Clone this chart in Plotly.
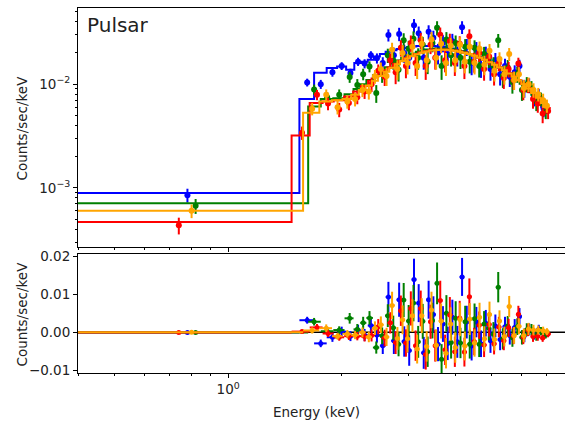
import plotly.graph_objects as go

# ---------------- data ----------------
# each dataset: first point is the wide low-energy bin
blue_E = [0.78, 1.62, 1.76, 1.89, 2.00, 2.11, 2.21, 2.30, 2.39, 2.48, 2.57, 2.66, 2.75, 2.84, 2.93,
          3.02, 3.11, 3.20, 3.30, 3.40, 3.50, 3.60, 3.71, 3.82, 3.93, 4.05, 4.17, 4.29, 4.42, 4.55,
          4.68, 4.82, 4.96, 5.11, 5.26, 5.42, 5.58, 5.75, 5.92, 6.10, 6.28, 6.47, 6.66, 6.86]
blue_F = [8.5e-4, 0.0104, 0.0100, 0.0130, 0.0150, 0.0128, 0.0165, 0.0158, 0.0190, 0.0178, 0.0160,
          0.0298, 0.0190, 0.0305, 0.0200, 0.0180, 0.0370, 0.0310, 0.0180, 0.0320, 0.0280, 0.0200,
          0.0250, 0.0195, 0.0260, 0.0190, 0.0355, 0.0230, 0.0160, 0.0215, 0.0150, 0.0195, 0.0140,
          0.0170, 0.0125, 0.0150, 0.0118, 0.0130, 0.0150, 0.0092, 0.0098, 0.0075, 0.0078, 0.0058]
blue_S = [1.3e-4, 0.0009, 0.0010, 0.0012, 0.0013, 0.0013, 0.0015, 0.0016, 0.0018, 0.0020, 0.0022,
          0.0040, 0.0035, 0.0045, 0.0040, 0.0040, 0.0055, 0.0050, 0.0042, 0.0050, 0.0048, 0.0045,
          0.0047, 0.0044, 0.0046, 0.0042, 0.0050, 0.0043, 0.0038, 0.0040, 0.0035, 0.0035, 0.0032,
          0.0030, 0.0028, 0.0026, 0.0024, 0.0022, 0.0022, 0.0018, 0.0016, 0.0014, 0.0012, 0.0010]
blue_M = [8.9e-4, 0.0072, 0.0129, 0.0143, 0.0148, 0.0138, 0.0160, 0.0165, 0.0172, 0.0185, 0.0195,
          0.0205, 0.0212, 0.0219, 0.0224, 0.0228, 0.0231, 0.0233, 0.0234, 0.0234, 0.0233, 0.0231,
          0.0228, 0.0224, 0.0220, 0.0215, 0.0209, 0.0203, 0.0196, 0.0188, 0.0180, 0.0171, 0.0162,
          0.0153, 0.0144, 0.0135, 0.0126, 0.0117, 0.0108, 0.0100, 0.0090, 0.0080, 0.0070, 0.0060]
blue_edges0 = [0.30, 1.545]

green_E = [0.82, 1.69, 1.83, 1.97, 2.10, 2.20, 2.28, 2.37, 2.47, 2.56, 2.65, 2.74, 2.83, 2.92, 3.01,
           3.10, 3.19, 3.28, 3.38, 3.48, 3.58, 3.68, 3.79, 3.90, 4.01, 4.13, 4.25, 4.37, 4.50, 4.63,
           4.77, 4.91, 5.05, 5.20, 5.35, 5.51, 5.67, 5.84, 6.01, 6.19, 6.37, 6.56, 6.75, 6.95]
green_F = [6.7e-4, 0.0089, 0.0075, 0.0079, 0.0117, 0.0098, 0.0125, 0.0148, 0.0082, 0.0125, 0.0190,
           0.0170, 0.0138, 0.0265, 0.0220, 0.0275, 0.0180, 0.0240, 0.0165, 0.0250, 0.0350, 0.0150,
           0.0270, 0.0190, 0.0250, 0.0180, 0.0230, 0.0165, 0.0225, 0.0150, 0.0195, 0.0175, 0.0150,
           0.0265, 0.0120, 0.0145, 0.0105, 0.0125, 0.0088, 0.0100, 0.0092, 0.0068, 0.0072, 0.0055]
green_S = [1.1e-4, 0.0010, 0.0009, 0.0010, 0.0014, 0.0014, 0.0016, 0.0018, 0.0016, 0.0022, 0.0030,
           0.0032, 0.0032, 0.0045, 0.0042, 0.0048, 0.0042, 0.0046, 0.0040, 0.0047, 0.0055, 0.0040,
           0.0048, 0.0042, 0.0045, 0.0040, 0.0042, 0.0038, 0.0040, 0.0034, 0.0034, 0.0032, 0.0032,
           0.0040, 0.0028, 0.0026, 0.0024, 0.0022, 0.0019, 0.0017, 0.0015, 0.0013, 0.0011, 0.0009]
green_M = [7.1e-4, 0.0061, 0.0072, 0.0073, 0.0080, 0.0090, 0.0100, 0.0110, 0.0122, 0.0134, 0.0146,
           0.0158, 0.0169, 0.0180, 0.0190, 0.0198, 0.0205, 0.0211, 0.0216, 0.0219, 0.0221, 0.0221,
           0.0220, 0.0217, 0.0213, 0.0208, 0.0202, 0.0196, 0.0189, 0.0181, 0.0173, 0.0164, 0.0155,
           0.0146, 0.0137, 0.0128, 0.0119, 0.0110, 0.0101, 0.0093, 0.0085, 0.0077, 0.0069, 0.0062]
green_edges0 = [0.30, 1.63]

red_E = [0.74, 1.57, 1.72, 1.84, 1.97, 2.09, 2.20, 2.30, 2.40, 2.50, 2.60, 2.69, 2.78, 2.87, 2.96,
         3.05, 3.14, 3.24, 3.34, 3.44, 3.54, 3.65, 3.76, 3.87, 3.99, 4.11, 4.23, 4.36, 4.49, 4.63,
         4.77, 4.92, 5.07, 5.22, 5.38, 5.54, 5.71, 5.88, 6.06, 6.24, 6.43, 6.62, 6.82, 7.05]
red_F = [4.35e-4, 0.0034, 0.0079, 0.0065, 0.0057, 0.0066, 0.0075, 0.0085, 0.0100, 0.0135, 0.0118,
         0.0170, 0.0130, 0.0225, 0.0150, 0.0250, 0.0160, 0.0265, 0.0150, 0.0240, 0.0180, 0.0300,
         0.0170, 0.0260, 0.0160, 0.0245, 0.0150, 0.0290, 0.0165, 0.0200, 0.0140, 0.0185, 0.0125,
         0.0160, 0.0115, 0.0140, 0.0110, 0.0158, 0.0088, 0.0098, 0.0072, 0.0065, 0.0052, 0.0055]
red_S = [0.8e-4, 0.0005, 0.0009, 0.0009, 0.0009, 0.0010, 0.0011, 0.0013, 0.0016, 0.0020, 0.0022,
         0.0028, 0.0030, 0.0040, 0.0036, 0.0045, 0.0040, 0.0047, 0.0040, 0.0045, 0.0042, 0.0052,
         0.0040, 0.0047, 0.0040, 0.0045, 0.0038, 0.0048, 0.0036, 0.0036, 0.0032, 0.0032, 0.0028,
         0.0027, 0.0025, 0.0024, 0.0022, 0.0022, 0.0018, 0.0016, 0.0014, 0.0012, 0.0010, 0.0009]
red_M = [4.69e-4, 0.0032, 0.0066, 0.0068, 0.0070, 0.0076, 0.0085, 0.0096, 0.0108, 0.0120, 0.0133,
         0.0145, 0.0157, 0.0168, 0.0178, 0.0187, 0.0195, 0.0202, 0.0208, 0.0212, 0.0215, 0.0216,
         0.0216, 0.0214, 0.0211, 0.0207, 0.0202, 0.0196, 0.0189, 0.0181, 0.0173, 0.0164, 0.0155,
         0.0146, 0.0137, 0.0128, 0.0119, 0.0110, 0.0101, 0.0092, 0.0083, 0.0075, 0.0067, 0.0059]
red_edges0 = [0.30, 1.473]

orange_E = [0.80, 1.67, 1.82, 1.95, 2.07, 2.17, 2.27, 2.36, 2.45, 2.54, 2.63, 2.72, 2.81, 2.90, 2.99,
            3.08, 3.17, 3.26, 3.36, 3.46, 3.56, 3.67, 3.78, 3.89, 4.00, 4.12, 4.24, 4.37, 4.50, 4.64,
            4.78, 4.93, 5.08, 5.24, 5.40, 5.56, 5.73, 5.90, 6.08, 6.26, 6.45, 6.64, 6.84, 7.00]
orange_F = [6.0e-4, 0.0058, 0.0079, 0.0060, 0.0068, 0.0072, 0.0088, 0.0085, 0.0119, 0.0140, 0.0120,
            0.0215, 0.0140, 0.0200, 0.0160, 0.0230, 0.0150, 0.0245, 0.0170, 0.0270, 0.0180, 0.0245,
            0.0160, 0.0235, 0.0170, 0.0240, 0.0165, 0.0230, 0.0160, 0.0220, 0.0155, 0.0210, 0.0135,
            0.0175, 0.0125, 0.0195, 0.0110, 0.0125, 0.0092, 0.0100, 0.0088, 0.0080, 0.0070, 0.0062]
orange_S = [0.9e-4, 0.0008, 0.0010, 0.0009, 0.0010, 0.0011, 0.0013, 0.0014, 0.0018, 0.0022, 0.0024,
            0.0036, 0.0030, 0.0038, 0.0036, 0.0043, 0.0038, 0.0046, 0.0040, 0.0048, 0.0042, 0.0046,
            0.0040, 0.0044, 0.0040, 0.0044, 0.0038, 0.0042, 0.0036, 0.0038, 0.0033, 0.0034, 0.0029,
            0.0028, 0.0026, 0.0028, 0.0022, 0.0021, 0.0018, 0.0016, 0.0014, 0.0012, 0.0011, 0.0009]
orange_M = [6.0e-4, 0.0053, 0.0068, 0.0070, 0.0072, 0.0079, 0.0088, 0.0097, 0.0108, 0.0120, 0.0132,
            0.0144, 0.0156, 0.0167, 0.0177, 0.0186, 0.0194, 0.0201, 0.0207, 0.0211, 0.0214, 0.0215,
            0.0215, 0.0213, 0.0210, 0.0206, 0.0201, 0.0195, 0.0188, 0.0180, 0.0172, 0.0163, 0.0154,
            0.0145, 0.0136, 0.0127, 0.0118, 0.0109, 0.0100, 0.0091, 0.0082, 0.0074, 0.0066, 0.0060]
orange_edges0 = [0.30, 1.58]

datasets = [
    ("blue", blue_E, blue_F, blue_S, blue_M, blue_edges0),
    ("green", green_E, green_F, green_S, green_M, green_edges0),
    ("red", red_E, red_F, red_S, red_M, red_edges0),
    ("orange", orange_E, orange_F, orange_S, orange_M, orange_edges0),
]

x_major = [1.0]
x_minor = [0.4, 0.5, 0.6, 0.7, 0.8, 0.9, 2, 3, 4, 5, 6, 7]
y_major = [1e-3, 1e-2]
y_major_text = ["10<sup>\u22123</sup>", "10<sup>\u22122</sup>"]
y_minor = [3e-4, 4e-4, 5e-4, 6e-4, 7e-4, 8e-4, 9e-4,
           2e-3, 3e-3, 4e-3, 5e-3, 6e-3, 7e-3, 8e-3, 9e-3,
           2e-2, 3e-2, 4e-2, 5e-2]
res_ticks = [-0.01, 0.0, 0.01, 0.02]
res_text = ["\u22120.01", "0.00", "0.01", "0.02"]

FONT = "DejaVu Sans"
FS = 13.5
fig = go.Figure()

# zero line in residual panel
fig.add_trace(go.Scatter(x=[0.3, 9.0], y=[0, 0], mode="lines", xaxis="x2", yaxis="y2",
                         line=dict(color="black", width=1.5), showlegend=False, hoverinfo="skip"))

for color, E, F, S, M, e0 in datasets:
    edges = list(e0) + [(E[i] + E[i + 1]) / 2 for i in range(1, len(E) - 1)]
    edges.append(E[-1] + (E[-1] - E[-2]) / 2)
    resid = [f - m for f, m in zip(F, M)]
    xplus = [edges[i + 1] - E[i] for i in range(len(E))]
    xminus = [E[i] - edges[i] for i in range(len(E))]
    # data (top)
    fig.add_trace(go.Scatter(
        x=E, y=F, mode="markers", xaxis="x", yaxis="y", showlegend=False,
        marker=dict(color=color, size=6, symbol="circle"),
        error_y=dict(type="data", array=S, visible=True, color=color, thickness=2, width=0)))
    # model step (top)
    fig.add_trace(go.Scatter(
        x=edges, y=M + [M[-1]], mode="lines", line_shape="hv", xaxis="x", yaxis="y",
        showlegend=False, line=dict(color=color, width=2)))
    # residuals (bottom)
    fig.add_trace(go.Scatter(
        x=E, y=resid, mode="markers", xaxis="x2", yaxis="y2", showlegend=False,
        marker=dict(color=color, size=5, symbol="circle"),
        error_y=dict(type="data", array=S, visible=True, color=color, thickness=2, width=0),
        error_x=dict(type="data", symmetric=False, array=xplus, arrayminus=xminus,
                     visible=True, color=color, thickness=2, width=0)))

xr = [-0.398, 0.893]
axis_common = dict(showline=True, linecolor="black", linewidth=1, showgrid=False, zeroline=False,
                   ticks="outside", tickcolor="black", ticklen=4, tickwidth=1, automargin=False,
                   tickfont=dict(family=FONT, size=FS, color="#222222"))

fig.update_layout(
    width=565, height=424,
    margin=dict(l=78, r=0, t=8, b=51, autoexpand=False),
    paper_bgcolor="white", plot_bgcolor="white",
    font=dict(family=FONT, size=FS, color="#222222"),
    xaxis=dict(type="log", range=xr, domain=[0, 1], anchor="y", mirror=True,
               tickmode="array", tickvals=x_major, showticklabels=False,
               minor=dict(tickvals=x_minor, ticklen=2, ticks="outside", tickcolor="black"),
               **axis_common),
    yaxis=dict(type="log", range=[-3.571, -1.265], domain=[0.3452, 1], anchor="x",
               tickmode="array", tickvals=y_major, ticktext=y_major_text,
               minor=dict(tickvals=y_minor, ticklen=2, ticks="outside", tickcolor="black"),
               **axis_common),
    xaxis2=dict(type="log", range=xr, domain=[0, 1], anchor="y2", mirror=True,
                tickmode="array", tickvals=x_major, ticktext=["10<sup>0</sup>"],
                minor=dict(tickvals=x_minor, ticklen=2, ticks="outside", tickcolor="black"),
                **axis_common),
    yaxis2=dict(range=[-0.0107, 0.02063], domain=[0, 0.326], anchor="x2",
                tickmode="array", tickvals=res_ticks, ticktext=res_text,
                **axis_common),
    annotations=[
        dict(text="Pulsar", xref="paper", yref="paper", x=0.014, y=0.993, xanchor="left",
             yanchor="top", showarrow=False, font=dict(family=FONT, size=20, color="#222222")),
        dict(text="Counts/sec/keV", xref="paper", yref="paper", x=-0.115, y=0.6726,
             textangle=-90, showarrow=False, xanchor="center", yanchor="middle",
             font=dict(family=FONT, size=FS, color="#222222")),
        dict(text="Counts/sec/keV", xref="paper", yref="paper", x=-0.115, y=0.163,
             textangle=-90, showarrow=False, xanchor="center", yanchor="middle",
             font=dict(family=FONT, size=FS, color="#222222")),
        dict(text="Energy (keV)", xref="paper", yref="paper", x=0.4904, y=-0.106,
             showarrow=False, xanchor="center", yanchor="middle",
             font=dict(family=FONT, size=FS, color="#222222")),
    ],
)

fig.write_html("out.html", config={"displayModeBar": False},
               post_script="document.body.style.margin='0';document.body.style.overflow='hidden';")
